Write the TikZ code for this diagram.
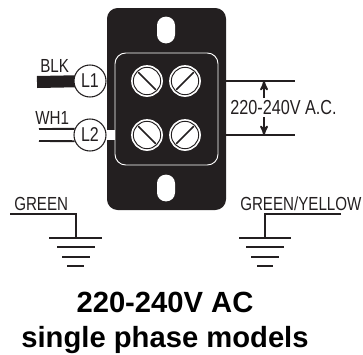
\documentclass[tikz,border=0pt]{standalone}
\usepackage{fontspec}
\setmainfont{Liberation Sans}
\newfontfamily\narrowfont[FakeStretch=0.8]{Liberation Sans}
\usetikzlibrary{arrows,backgrounds,positioning}
\definecolor{plate}{HTML}{231F20}

\begin{document}
\begin{tikzpicture}[x=0.75pt,y=-0.75pt,>=stealth']
  \tikzstyle{wire}=[plate,line width=1.4pt]
  \tikzstyle{slash}=[plate,line width=1.2pt,shorten >=1.5pt,shorten <=1.5pt]
  \tikzstyle{terminal}=[circle,draw=plate,fill=white,line width=0.8pt,minimum size=24pt,inner sep=0pt,
                        font=\narrowfont\fontsize{15}{15}\selectfont,text=plate]
  \tikzstyle{screw}=[circle,draw=white,double=plate,double distance=0.7pt,line width=1.3pt,
                     fill=white,minimum size=20.5pt,inner sep=0pt]
  \tikzstyle{slot}=[fill=white,minimum width=13.5pt,minimum height=20pt,rounded corners=6.5pt,inner sep=0pt]
  \tikzstyle{label}=[font=\narrowfont\fontsize{14.2}{14}\selectfont,text=plate,inner sep=0pt]
  \tikzstyle{title}=[font=\bfseries\fontsize{21.9}{26}\selectfont,inner sep=0pt]
  \useasboundingbox (0,0) rectangle (363,354);
  % mounting plate
  \node [fill=plate,rounded corners=8pt,minimum width=89.25pt,minimum height=151.5pt,inner sep=0pt] (plate) at (166.5,109) {};
  \node [draw=white,line width=0.7pt,rounded corners=8pt,minimum width=77.25pt,minimum height=84pt,inner sep=0pt] (frame) at (166.5,109) {};
  \node [slot] (slot1) at (166,30) {};
  \node [slot] (slot2) at (166,188) {};
  % screws
  \node [screw] (s1) at (147,81) {};
  \node [screw] (s2) at (185,81) {};
  \node [screw] (s3) at (147,135) {};
  \node [screw] (s4) at (185,135) {};
  \draw [slash] (s1.135) -- (s1.-45);
  \draw [slash] (s2.45) -- (s2.-135);
  \draw [slash] (s3.135) -- (s3.-45);
  \draw [slash] (s4.45) -- (s4.-135);
  % line wires
  \node [terminal] (l1) at (90,81) {L1};
  \node [terminal] (l2) at (90,135) {L2};
  \coordinate (b1) at (37,82);
  \coordinate (w1) at (39,129);
  \coordinate (w2) at (39,141);
  \begin{scope}[on background layer]
    \draw [plate,line width=9pt] (b1) -- (l1.center);
  \end{scope}
  \draw [white,line width=8pt] (l2.east) -- (frame.west |- l2);
  \draw [wire] (w1) -- (l2.158);
  \draw [wire] (w2) -- (l2.202);
  \node [label,anchor=base west] (blk) at (40,72) {BLK};
  \node [label,anchor=base west] (wh1) at (35,124) {WH1};
  % supply side
  \coordinate (e1) at (295,81);
  \coordinate (e2) at (295,135);
  \draw [wire] (plate.east |- e1) -- (e1);
  \draw [wire] (plate.east |- e2) -- (e2);
  \node [label,font=\narrowfont\fontsize{15.2}{15}\selectfont] (volt) at (283.5,108) {220-240V A.C.};
  \draw [->,wire] (264,98) -- (264,81);
  \draw [->,wire] (264,117) -- (264,135);
  % grounds
  \node [label,anchor=base west] (green) at (14,210) {GREEN};
  \node [label,anchor=base west] (gy) at (240,210) {GREEN/YELLOW};
  \coordinate (g0) at (10,214);
  \coordinate (g1) at (76,214);
  \coordinate (g2) at (76,238);
  \draw [wire] (g0) -- (g1) -- (g2);
  \coordinate (h0) at (341,214);
  \coordinate (h1) at (265,214);
  \coordinate (h2) at (265,238);
  \draw [wire] (h0) -- (h1) -- (h2);
  \draw [wire] (49,238) -- (102,238);
  \draw [wire] (57,247) -- (95,247);
  \draw [wire] (62,257) -- (90,257);
  \draw [wire] (67,266) -- (84,266);
  \draw [wire] (239,238) -- (291,238);
  \draw [wire] (246,247) -- (284,247);
  \draw [wire] (251,257) -- (279,257);
  \draw [wire] (257,266) -- (273,266);
  % caption
  \node [title,anchor=base] (t1) at (165,312) {220-240V AC};
  \node [title,anchor=base] (t2) at (165,347) {single phase models};
\end{tikzpicture}
\end{document}
